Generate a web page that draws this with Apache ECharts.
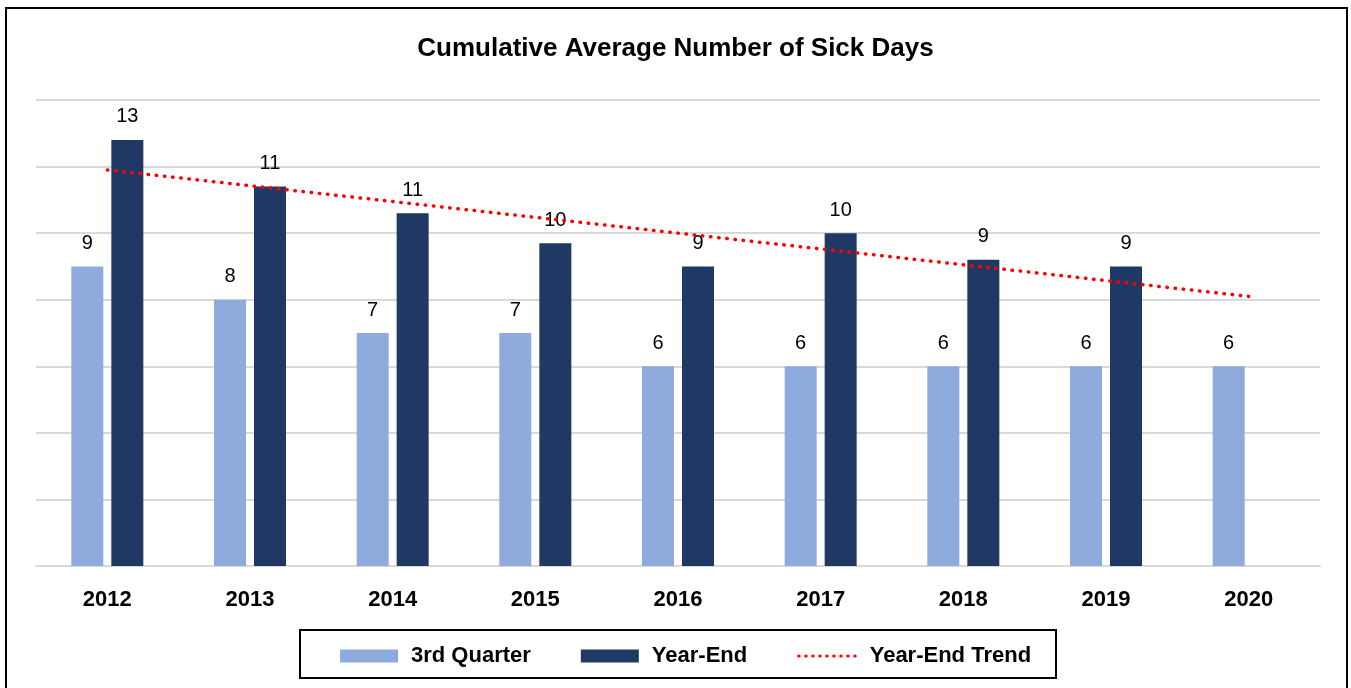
<!DOCTYPE html>
<html>
<head>
<meta charset="utf-8">
<script src="https://cdn.jsdelivr.net/npm/echarts@6/dist/echarts.min.js"></script>
<style>
	html, body { margin: 0; padding: 0; background: #fff; }
	#charts { width: 1351px; height: 688px; }
</style>
</head>
<body>
<div id="charts"></div>
<script>
const years = ['2012', '2013', '2014', '2015', '2016', '2017', '2018', '2019', '2020']
const thirdQuarter = [9, 8, 7, 7, 6, 6, 6, 6, 6]
const yearEnd = [12.8, 11.4, 10.6, 9.7, 9.0, 10.0, 9.2, 9.0, null]
// trend line: start at 2012, end at 2020
const yearEndTrend = [11.9, null, null, null, null, null, null, null, 8.1]

const font = '"Liberation Sans Narrow", "Arial Narrow", "Liberation Sans", Arial, sans-serif'

const chart = echarts.init(document.getElementById('charts'))

const barLabel = {
	show: true,
	position: 'top',
	distance: 13,
	fontFamily: font,
	fontSize: 20,
	color: '#000',
	formatter: p => Math.round(p.value)
}

chart.setOption({
	animation: false,
	textStyle: { fontFamily: font },
	title: {
		text: 'Cumulative Average Number of Sick Days',
		left: 'center',
		top: 31,
		textStyle: {
			fontFamily: font,
			fontSize: 26,
			fontWeight: 'bold',
			color: '#000'
		}
	},
	graphic: [
		{
			type: 'rect',
			shape: { x: 6, y: 8, width: 1341, height: 700 },
			style: { fill: 'none', stroke: '#000', lineWidth: 2 }
		},
		{
			type: 'rect',
			shape: { x: 300, y: 630, width: 756, height: 48 },
			style: { fill: 'none', stroke: '#000', lineWidth: 2 }
		}
	],
	legend: {
		left: 340,
		top: 645,
		padding: 0,
		itemWidth: 58,
		itemHeight: 13,
		itemGap: 50,
		textStyle: {
			fontFamily: font,
			fontSize: 22,
			fontWeight: 'bold',
			color: '#000',
			padding: [0, 0, 0, 8]
		},
		data: [
			{ name: '3rd Quarter', icon: 'rect' },
			{ name: 'Year-End', icon: 'rect' },
			{
				name: 'Year-End Trend',
				itemStyle: { color: 'rgba(0,0,0,0)', borderWidth: 0 },
				lineStyle: { width: 3, type: [0.5, 6.5], cap: 'round' }
			}
		]
	},
	grid: {
		left: 36,
		right: 31,
		top: 100,
		bottom: 122
	},
	xAxis: {
		type: 'category',
		data: years,
		axisTick: { show: false },
		axisLine: { lineStyle: { color: '#d9d9d9', width: 2 } },
		axisLabel: {
			margin: 23,
			fontFamily: font,
			fontSize: 22,
			fontWeight: 'bold',
			color: '#000'
		}
	},
	yAxis: {
		type: 'value',
		min: 0,
		max: 14,
		interval: 2,
		axisLabel: { show: false },
		axisLine: { show: false },
		axisTick: { show: false },
		splitLine: { lineStyle: { color: '#d9d9d9', width: 2 } }
	},
	series: [
		{
			name: '3rd Quarter',
			type: 'bar',
			data: thirdQuarter,
			barWidth: 32,
			barGap: '25%',
			itemStyle: { color: '#8faadc' },
			label: barLabel
		},
		{
			name: 'Year-End',
			type: 'bar',
			data: yearEnd,
			barWidth: 32,
			barGap: '25%',
			itemStyle: { color: '#203864' },
			label: barLabel
		},
		{
			name: 'Year-End Trend',
			type: 'line',
			data: yearEndTrend,
			connectNulls: true,
			symbol: 'none',
			z: 5,
			itemStyle: { color: '#ff0000' },
			lineStyle: {
				color: '#ff0000',
				width: 3.5,
				type: [0.5, 7.7],
				cap: 'round'
			}
		}
	]
})
</script>
</body>
</html>
